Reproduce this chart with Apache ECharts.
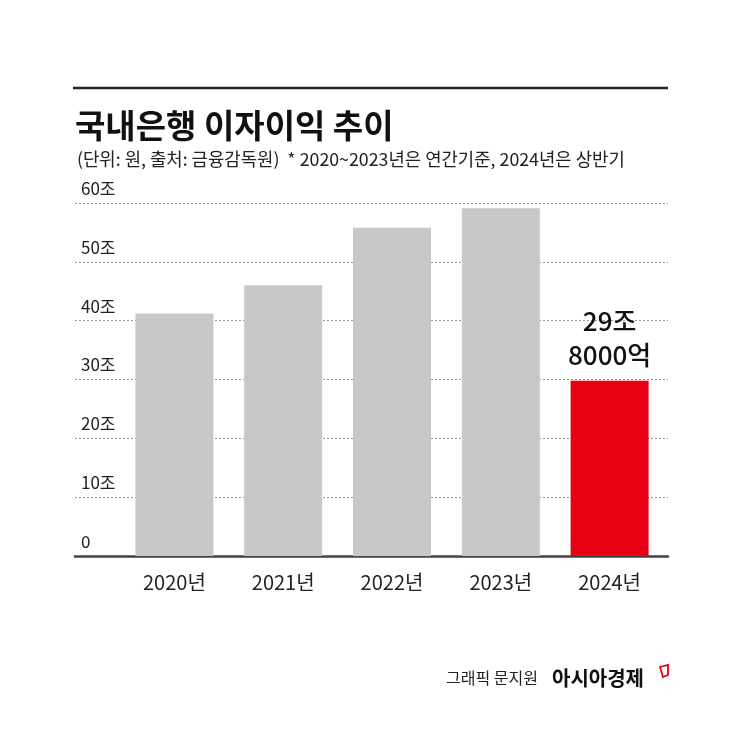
<!DOCTYPE html>
<html>
<head>
<meta charset="utf-8">
<script src="https://cdn.jsdelivr.net/npm/echarts@6/dist/echarts.min.js"></script>
<style>
html,body{margin:0;padding:0;background:#fff;}
#c{width:745px;height:745px;}
</style>
</head>
<body>
<div id="c"></div>
<script>
var categories = ['2020년', '2021년', '2022년', '2023년', '2024년'];
var values = [41.2, 46.0, 55.8, 59.1, 29.8];
var barColors = ['#c8c8c8', '#c8c8c8', '#c8c8c8', '#c8c8c8', '#e60012'];
var highlightLabel = '29조\n8000억';
var yTicks = { min: 0, max: 60, interval: 10, suffix: '조' };
var titleText = '국내은행 이자이익 추이';
var subtitleText = '(단위: 원, 출처: 금융감독원)  * 2020~2023년은 연간기준, 2024년은 상반기';
var creditA = '그래픽 문지원';
var creditB = '아시아경제';

var FONT = '"Noto Sans CJK KR", "Noto Sans", sans-serif';
var chart = echarts.init(document.getElementById('c'), null, { renderer: 'canvas' });

var barData = values.map(function (v, i) {
  var d = { value: v, itemStyle: { color: barColors[i] } };
  if (i === values.length - 1) {
    d.label = {
      show: true, position: 'top', distance: 9,
      formatter: highlightLabel,
      fontFamily: FONT, fontSize: 26, fontWeight: 500, lineHeight: 34, color: '#111', align: 'center'
    };
  }
  return d;
});

var option = {
  backgroundColor: '#fff',
  animation: false,
  title: [
    { text: titleText, left: 70, top: 100,
      textStyle: { fontFamily: FONT, fontSize: 33, fontWeight: 'bold', color: '#111', lineHeight: 40 } },
    { text: subtitleText, left: 72, top: 143,
      textStyle: { fontFamily: FONT, fontSize: 17.8, fontWeight: 'normal', color: '#222', lineHeight: 22 } }
  ],
  graphic: [
    { type: 'line', shape: { x1: 73, y1: 88, x2: 668, y2: 88 }, style: { stroke: '#222', lineWidth: 2.5 } },
    { type: 'text', left: 446, top: 670, style: { text: creditA, fontFamily: FONT, fontSize: 16, fill: '#222' } },
    { type: 'text', left: 552, top: 668, style: { text: creditB, fontFamily: FONT, fontSize: 20, fontWeight: 'bold', fill: '#111' } },
    { type: 'polygon', shape: { points: [[660, 667], [668, 665], [668, 675], [663, 677]] },
      style: { fill: '#fff', stroke: '#e60012', lineWidth: 1.8 } }
  ],
  grid: [
    { left: 75, right: 77, top: 203, bottom: 189 },
    { left: 120, right: 81, top: 203, bottom: 189 }
  ],
  xAxis: [
    { gridIndex: 0, type: 'value', min: 0, max: 1,
      axisLine: { show: true, lineStyle: { color: '#444', width: 2.5 } },
      axisTick: { show: false }, axisLabel: { show: false }, splitLine: { show: false } },
    { gridIndex: 1, type: 'category', data: categories,
      axisLine: { show: false }, axisTick: { show: false },
      axisLabel: { fontFamily: FONT, fontSize: 20, color: '#222', margin: 16 } }
  ],
  yAxis: [
    { gridIndex: 0, type: 'value', min: yTicks.min, max: yTicks.max, interval: yTicks.interval,
      axisLine: { show: false }, axisTick: { show: false },
      splitLine: { show: true, lineStyle: { color: '#999', width: 1, type: [2, 2] } },
      axisLabel: { inside: true, margin: 6, align: 'left', verticalAlign: 'bottom',
        padding: [0, 0, 6, 0], fontFamily: FONT, fontSize: 17, color: '#222',
        showMaxLabel: true, showMinLabel: true,
        formatter: function (v) { return v === 0 ? '0' : v + yTicks.suffix; } } },
    { gridIndex: 1, type: 'value', min: yTicks.min, max: yTicks.max, interval: yTicks.interval, show: false,
      splitLine: { show: false } }
  ],
  series: [
    { type: 'bar', xAxisIndex: 1, yAxisIndex: 1, data: barData, barWidth: 78, z: 3 }
  ]
};
chart.setOption(option);
</script>
</body>
</html>
